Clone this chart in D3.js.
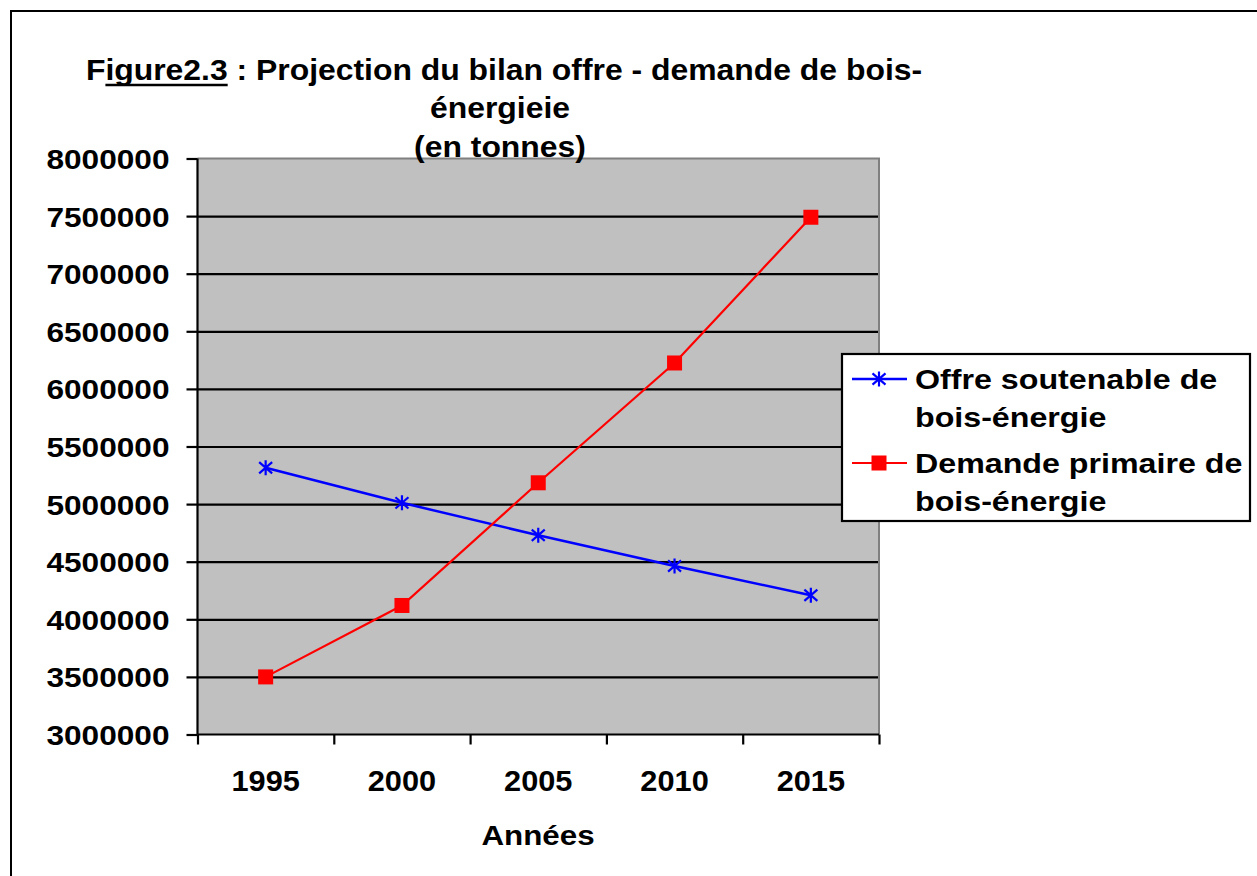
<!DOCTYPE html>
<html>
<head>
<meta charset="utf-8">
<script src="https://cdn.jsdelivr.net/npm/d3@7"></script>
<style>
  html, body { margin: 0; padding: 0; background: #fff; }
  svg { display: block; }
  text { font-family: "Liberation Sans", Arial, sans-serif; font-weight: bold; fill: #000; }
</style>
</head>
<body>
<svg id="chart" width="1257" height="876"></svg>
<script>
// ---- data ----
const years = ["1995", "2000", "2005", "2010", "2015"];
const offre = [5315000, 5011000, 4729000, 4463000, 4209000];
const demande = [3500000, 4120000, 5185000, 6225000, 7490000];
const yTicks = [3000000, 3500000, 4000000, 4500000, 5000000, 5500000, 6000000, 6500000, 7000000, 7500000, 8000000];
const seriesNames = [["Offre soutenable de", "bois-énergie"], ["Demande primaire de", "bois-énergie"]];
const titleLines = ["Figure2.3 : Projection du bilan offre - demande de bois-", "énergieie", "(en tonnes)"];
const xTitle = "Années";

// ---- layout ----
const svg = d3.select("#chart");
const L = 197.5, R = 879, T = 158.5, B = 734.5;
const SX = 1.13;

const x = d3.scaleBand().domain(years).range([L, R]);
const xEdge = d3.scaleLinear().domain([0, years.length]).range([L, R]);
const y = d3.scaleLinear().domain([3000000, 8000000]).range([B, T]);

// outer frame
svg.append("rect").attr("x", 11).attr("y", 11).attr("width", 1300).attr("height", 900)
  .attr("fill", "#fff").attr("stroke", "#000").attr("stroke-width", 2);

// plot area
svg.append("rect").attr("x", L).attr("y", T).attr("width", R - L).attr("height", B - T)
  .attr("fill", "#C0C0C0");

// gridlines
svg.append("g").attr("transform", `translate(${L},0)`)
  .call(d3.axisLeft(y).tickValues(yTicks.filter(v => v !== 8000000 && v !== 3000000)).tickSize(-(R - L)).tickFormat(""))
  .call(g => g.select(".domain").remove())
  .call(g => g.selectAll("line").attr("stroke", "#000").attr("stroke-width", 2.2));

// plot border (gray top / right)
svg.append("path").attr("d", `M${L},${T}H${R}V${B}`).attr("fill", "none")
  .attr("stroke", "#808080").attr("stroke-width", 2);

// y axis
const yAx = svg.append("g").attr("transform", `translate(${L},0)`)
  .call(d3.axisLeft(y).tickValues(yTicks).tickSize(11).tickFormat(d => String(d)));
yAx.select(".domain").attr("stroke", "#000").attr("stroke-width", 2.2).attr("d", `M0,${T}V${B}`);
yAx.selectAll(".tick line").attr("stroke", "#000").attr("stroke-width", 2.2);
yAx.selectAll(".tick text")
  .attr("font-size", 28).attr("font-family", null).attr("fill", "#000")
  .attr("text-anchor", "end").attr("dy", null).attr("y", 10)
  .attr("x", -28 / SX).attr("transform", `scale(${SX},1)`);

// x axis: ticks at band edges
const xTk = svg.append("g").attr("transform", `translate(0,${B})`)
  .call(d3.axisBottom(xEdge).tickValues(d3.range(years.length + 1)).tickSize(10).tickFormat(""));
xTk.select(".domain").attr("stroke", "#000").attr("stroke-width", 2.2).attr("d", `M${L},0H${R}`);
xTk.selectAll(".tick line").attr("stroke", "#000").attr("stroke-width", 2.2);

// x labels
const xLab = svg.append("g").attr("transform", `translate(0,${B})`)
  .call(d3.axisBottom(x).tickSize(0));
xLab.select(".domain").remove();
xLab.selectAll(".tick text")
  .attr("font-size", 29).attr("font-family", null).attr("fill", "#000")
  .attr("dy", null).attr("y", 57).attr("transform", "scale(1.06,1)");

// helper for stretched text
function stext(parent, cx, by, str, size, anchor, sx) {
  const g = parent.append("g").attr("transform", `translate(${cx},${by}) scale(${sx},1)`);
  const t = g.append("text").attr("font-size", size).attr("text-anchor", anchor).text(str);
  return { g, t };
}

// x title
stext(svg, 538, 845, xTitle, 28, "middle", 1.12);

// lines
const line = d3.line().x((d, i) => x(years[i]) + x.bandwidth() / 2).y(d => y(d));
svg.append("path").datum(offre).attr("d", line).attr("fill", "none")
  .attr("stroke", "#0000FF").attr("stroke-width", 2.5);
svg.append("path").datum(demande).attr("d", line).attr("fill", "none")
  .attr("stroke", "#FF0000").attr("stroke-width", 2.2);

function star(g, cx, cy) {
  const w = 6.5, h = 7.5;
  g.append("path")
    .attr("d", `M${cx},${cy - h}V${cy + h}M${cx - w},${cy - h * 0.75}L${cx + w},${cy + h * 0.75}M${cx - w},${cy + h * 0.75}L${cx + w},${cy - h * 0.75}`)
    .attr("stroke", "#0000FF").attr("stroke-width", 2.2).attr("fill", "none");
}
function sq(g, cx, cy) {
  g.append("rect").attr("x", cx - 7.5).attr("y", cy - 7.5).attr("width", 15).attr("height", 15)
    .attr("fill", "#FF0000");
}
const mk = svg.append("g");
offre.forEach((v, i) => star(mk, x(years[i]) + x.bandwidth() / 2, y(v)));
demande.forEach((v, i) => sq(mk, x(years[i]) + x.bandwidth() / 2, y(v)));

// legend
const lg = svg.append("g");
lg.append("rect").attr("x", 842).attr("y", 354).attr("width", 408).attr("height", 167)
  .attr("fill", "#fff").attr("stroke", "#000").attr("stroke-width", 2.2);
const legY = [379, 463];
const legColors = ["#0000FF", "#FF0000"];
[0, 1].forEach(i => {
  lg.append("line").attr("x1", 852).attr("x2", 907).attr("y1", legY[i]).attr("y2", legY[i])
    .attr("stroke", legColors[i]).attr("stroke-width", i === 0 ? 2.5 : 2.2);
  if (i === 0) star(lg, 879, legY[i]); else sq(lg, 879, legY[i]);
  stext(lg, 915, legY[i] + 10, seriesNames[i][0], 28, "start", 1.15);
  stext(lg, 915, legY[i] + 48, seriesNames[i][1], 28, "start", 1.15);
});

// title
const tg = svg.append("g");
const t1 = stext(tg, 504, 80, "", 29, "middle", 1.1);
t1.t.append("tspan").text("F");
t1.t.append("tspan").text("igure2.3");
t1.t.append("tspan").text(titleLines[0].slice(9));
const tn = t1.t.node();
const x0 = tn.getStartPositionOfChar(1).x;
const e = tn.getEndPositionOfChar(8);
const x1 = e.x;
t1.g.append("line").attr("x1", x0).attr("x2", x1).attr("y1", 5).attr("y2", 5)
  .attr("stroke", "#000").attr("stroke-width", 2.5);
stext(tg, 500, 118, titleLines[1], 29, "middle", 1.1);
stext(tg, 500, 156.5, titleLines[2], 29, "middle", 1.1);
</script>
</body>
</html>
